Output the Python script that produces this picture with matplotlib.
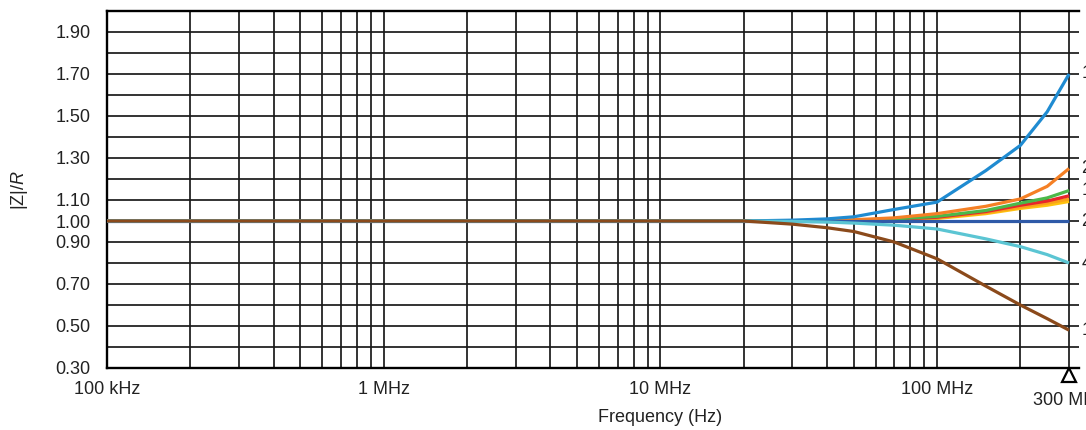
import matplotlib
matplotlib.use("Agg")
import matplotlib.pyplot as plt
import matplotlib.transforms as mtransforms
from matplotlib.ticker import FixedLocator, NullFormatter, LogLocator

plt.rcParams['font.family'] = ['Liberation Sans', 'DejaVu Sans']
plt.rcParams['mathtext.fontset'] = 'custom'
plt.rcParams['mathtext.rm'] = 'Liberation Sans'
plt.rcParams['mathtext.it'] = 'Liberation Sans:italic'

# ---- data ----
freq_hz = [1e5, 1e6, 1e7, 2e7, 3e7, 4e7, 5e7, 7e7, 1e8, 1.5e8, 2e8, 2.5e8, 3e8]

z_blue    = [1.0, 1.0, 1.0, 1.0, 1.004, 1.010, 1.020, 1.055, 1.090, 1.240, 1.360, 1.520, 1.700]
z_orange  = [1.0, 1.0, 1.0, 1.0, 1.000, 1.003, 1.006, 1.015, 1.035, 1.070, 1.105, 1.165, 1.250]
z_green   = [1.0, 1.0, 1.0, 1.0, 1.000, 1.001, 1.003, 1.010, 1.022, 1.050, 1.085, 1.110, 1.145]
z_red     = [1.0, 1.0, 1.0, 1.0, 1.000, 1.001, 1.002, 1.008, 1.018, 1.045, 1.075, 1.095, 1.120]
z_gold    = [1.0, 1.0, 1.0, 1.0, 1.000, 1.001, 1.002, 1.007, 1.015, 1.040, 1.066, 1.085, 1.105]
z_yellow  = [1.0, 1.0, 1.0, 1.0, 1.000, 1.000, 1.001, 1.005, 1.012, 1.035, 1.060, 1.075, 1.093]
z_navy    = [1.0, 1.0, 1.0, 1.0, 1.000, 1.000, 1.000, 1.000, 1.000, 1.000, 1.000, 1.000, 1.000]
z_cyan    = [1.0, 1.0, 1.0, 1.0, 0.998, 0.995, 0.990, 0.980, 0.962, 0.915, 0.878, 0.840, 0.800]
z_brown   = [1.0, 1.0, 1.0, 1.0, 0.985, 0.968, 0.950, 0.900, 0.820, 0.690, 0.600, 0.535, 0.480]

series = [
    (z_yellow, '#ffc20e'),
    (z_gold,   '#f9a11b'),
    (z_red,    '#e8262b'),
    (z_green,  '#4cb849'),
    (z_orange, '#f58025'),
    (z_blue,   '#1f8bd1'),
    (z_navy,   '#2f5aa8'),
    (z_cyan,   '#5bc5d3'),
    (z_brown,  '#8b4a1b'),
]
series_labels = {'#4cb849': '15 Ω', '#f58025': '22 Ω', '#1f8bd1': '10 Ω',
                 '#2f5aa8': '27 Ω', '#5bc5d3': '47 Ω', '#8b4a1b': '100 Ω'}

y_ticks = [0.30, 0.50, 0.70, 0.90, 1.00, 1.10, 1.30, 1.50, 1.70, 1.90]
y_minor = [0.40, 0.60, 0.80, 1.20, 1.40, 1.60, 1.80]
x_ticks = [1e5, 1e6, 1e7, 1e8]
x_labels = ['100 kHz', '1 MHz', '10 MHz', '100 MHz']
marker_freq = 3e8
marker_label = '300 MHz'

# ---- figure ----
W, H = 1086, 430
fig = plt.figure(figsize=(W / 100, H / 100), dpi=100)
ax = fig.add_axes([107 / W, 1 - 368 / H, (1079 - 107) / W, (368 - 11) / H])

for vals, col in series:
    ax.plot(freq_hz, vals, color=col, lw=2.3, solid_capstyle='butt', zorder=3)

ax.set_xscale('log')
ax.set_xlim(1e5, 3.258e8)
ax.set_ylim(0.3, 2.0)

ax.xaxis.set_major_locator(FixedLocator(x_ticks))
ax.set_xticklabels(x_labels)
ax.xaxis.set_minor_locator(LogLocator(base=10, subs=range(2, 10), numticks=20))
ax.xaxis.set_minor_formatter(NullFormatter())
ax.yaxis.set_major_locator(FixedLocator(y_ticks))
ax.set_yticklabels([f'{v:.2f}' for v in y_ticks])
ax.yaxis.set_minor_locator(FixedLocator(y_minor))

ax.grid(True, which='both', axis='both', color='#1a1a1a', lw=1.25, zorder=1)
ax.set_axisbelow(True)
ax.tick_params(which='both', length=0, labelsize=13, colors='#222222')
ax.tick_params(axis='x', pad=9)
ax.tick_params(axis='y', pad=12)

for s in ['left', 'top', 'bottom']:
    ax.spines[s].set_linewidth(1.7)
    ax.spines[s].set_color('black')
ax.spines['right'].set_visible(False)

# 300 MHz marker (triangle below axis) and label
tr = mtransforms.offset_copy(ax.transData, fig=fig, x=0, y=-7, units='dots')
ax.plot([marker_freq], [0.3], marker='^', ms=10.5, mfc='white', mec='black',
        mew=1.6, transform=tr, clip_on=False, zorder=5)
ax.text(marker_freq, -0.09, marker_label, transform=ax.get_xaxis_transform(),
        ha='center', va='center', fontsize=13, color='#222222', clip_on=False)

# series labels at right edge (mostly clipped by the figure edge, as in the source)
for vals, col in series:
    if col in series_labels:
        ypix = ax.transData.transform((marker_freq, vals[-1]))[1]
        fig.text(1082 / W, ypix / H, series_labels[col], ha='left', va='center',
                 fontsize=13, color='#222222')

fig.text(20 / W, 1 - 190 / H, '|Z|/$\\mathit{R}$', rotation=90, ha='center', va='center',
         fontsize=13, color='#222222')
fig.text(660 / W, 1 - 418 / H, 'Frequency (Hz)', ha='center', va='center',
         fontsize=13, color='#222222')

fig.savefig('out.png', dpi=100)
